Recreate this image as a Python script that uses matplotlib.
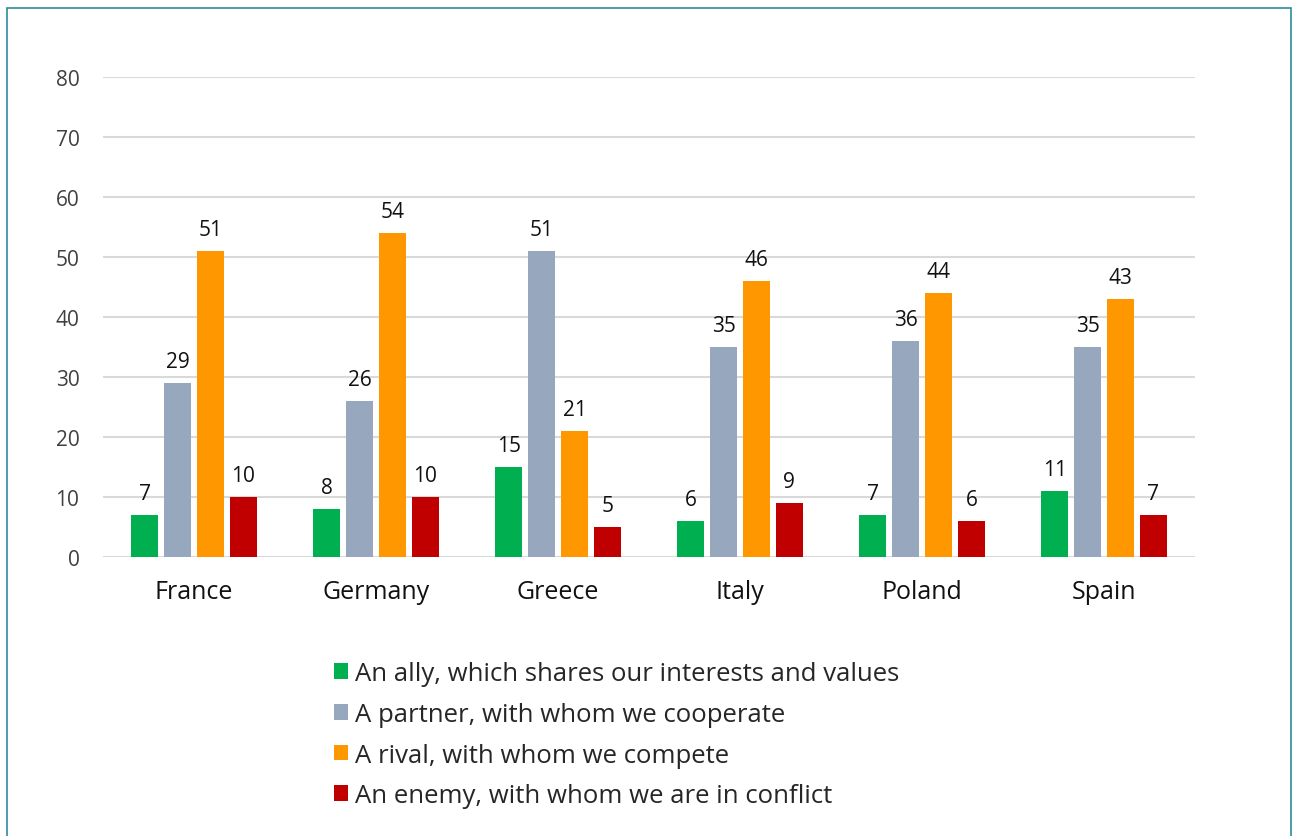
import matplotlib.pyplot as plt
import numpy as np

countries = ['France', 'Germany', 'Greece', 'Italy', 'Poland', 'Spain']
ally = [7, 8, 15, 6, 7, 11]
partner = [29, 26, 51, 35, 36, 35]
rival = [51, 54, 21, 46, 44, 43]
enemy = [10, 10, 5, 9, 6, 7]
labels = ['An ally, which shares our interests and values',
          'A partner, with whom we cooperate',
          'A rival, with whom we compete',
          'An enemy, with whom we are in conflict']
colors = ['#00B050', '#97A7BD', '#FF9800', '#C00000']

plt.rcParams['font.family'] = ['Open Sans', 'DejaVu Sans']

fig = plt.figure(figsize=(12.93, 8.37), dpi=100)
ax = fig.add_axes([103/1293, 1-558/837, 1092/1293, 480/837])

x = np.arange(len(countries))
w = 0.148
step = 0.181
series = [ally, partner, rival, enemy]
handles = []
for i, (vals, c) in enumerate(zip(series, colors)):
    pos = x + (i - 1.5) * step
    b = ax.bar(pos, vals, width=w, color=c, zorder=3)
    handles.append(b)
    for p, v in zip(pos, vals):
        ax.text(p, v + 1.9, str(v), ha='center', va='bottom', fontsize=15, color='#111111')

ax.set_xlim(-0.5, 5.5)
ax.set_ylim(0, 80)
ax.set_yticks(range(0, 81, 10))
ax.set_xticks(x)
ax.set_xticklabels(countries, fontsize=18, color='#111111')
ax.tick_params(axis='y', labelsize=15, colors='#404040', length=0, pad=17)
ax.tick_params(axis='x', length=0, pad=16)
ax.grid(axis='y', color='#D9D9D9', linewidth=1.5, zorder=0)
for s in ax.spines.values():
    s.set_visible(False)

fig.legend(handles, labels, loc='upper left', bbox_to_anchor=(324/1293, 1-652/837),
           frameon=False, fontsize=18.5, labelcolor='#262626', handlelength=0.55,
           handleheight=0.55, handletextpad=0.25, labelspacing=0.61, borderaxespad=0)

# outer frame
fig.patches.append(plt.Rectangle((7/1293, -0.1), 1284/1293, 1.1 - 9/837, transform=fig.transFigure,
                                 fill=False, edgecolor='#2E8A9C', linewidth=1.2))

fig.savefig('out.png', dpi=100)
